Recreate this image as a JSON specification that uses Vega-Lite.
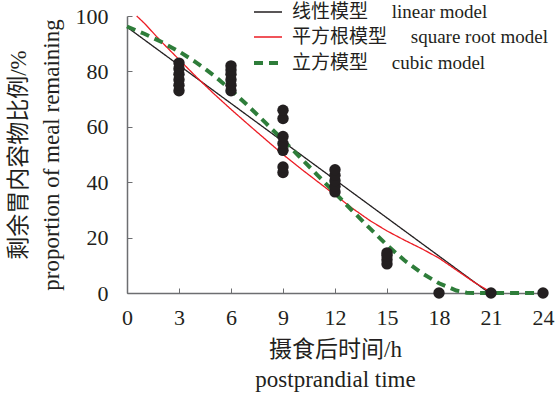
{
  "$schema": "https://vega.github.io/schema/vega-lite/v6.json",
  "width": 416,
  "height": 277,
  "autosize": {"type": "none"},
  "padding": {"left": 127, "top": 16, "right": 14, "bottom": 105},
  "config": {
    "view": {"stroke": null},
    "font": "Liberation Serif, Noto Sans CJK SC",
    "legend": {"labelFont": "Liberation Serif, Noto Sans CJK SC"}
  },
  "datasets": {
    "lines": [
      {"model": "线性模型\u3000\u00a0linear model", "t": 0, "v": 96},
      {"model": "线性模型\u3000\u00a0linear model", "t": 20.9, "v": 0},
      {"model": "平方根模型\u3000\u00a0square root model", "t": 0.56, "v": 100},
      {"model": "平方根模型\u3000\u00a0square root model", "t": 1, "v": 97.4},
      {"model": "平方根模型\u3000\u00a0square root model", "t": 2, "v": 90.6},
      {"model": "平方根模型\u3000\u00a0square root model", "t": 3, "v": 84.3},
      {"model": "平方根模型\u3000\u00a0square root model", "t": 4, "v": 78},
      {"model": "平方根模型\u3000\u00a0square root model", "t": 5, "v": 72},
      {"model": "平方根模型\u3000\u00a0square root model", "t": 6, "v": 66.3},
      {"model": "平方根模型\u3000\u00a0square root model", "t": 7, "v": 60.8},
      {"model": "平方根模型\u3000\u00a0square root model", "t": 8, "v": 55.4},
      {"model": "平方根模型\u3000\u00a0square root model", "t": 9, "v": 50},
      {"model": "平方根模型\u3000\u00a0square root model", "t": 10, "v": 45},
      {"model": "平方根模型\u3000\u00a0square root model", "t": 11, "v": 40.2},
      {"model": "平方根模型\u3000\u00a0square root model", "t": 12, "v": 35.4},
      {"model": "平方根模型\u3000\u00a0square root model", "t": 13, "v": 30.6},
      {"model": "平方根模型\u3000\u00a0square root model", "t": 14, "v": 26.2},
      {"model": "平方根模型\u3000\u00a0square root model", "t": 15, "v": 22.4},
      {"model": "平方根模型\u3000\u00a0square root model", "t": 16, "v": 19.1},
      {"model": "平方根模型\u3000\u00a0square root model", "t": 17, "v": 16},
      {"model": "平方根模型\u3000\u00a0square root model", "t": 18, "v": 12.6},
      {"model": "平方根模型\u3000\u00a0square root model", "t": 19, "v": 8.3},
      {"model": "平方根模型\u3000\u00a0square root model", "t": 20, "v": 4},
      {"model": "平方根模型\u3000\u00a0square root model", "t": 20.8, "v": 1},
      {"model": "平方根模型\u3000\u00a0square root model", "t": 21, "v": 0},
      {"model": "立方模型\u3000\u00a0cubic model", "t": 0, "v": 96.2},
      {"model": "立方模型\u3000\u00a0cubic model", "t": 1, "v": 93.6},
      {"model": "立方模型\u3000\u00a0cubic model", "t": 2, "v": 90.6},
      {"model": "立方模型\u3000\u00a0cubic model", "t": 3, "v": 87.2},
      {"model": "立方模型\u3000\u00a0cubic model", "t": 4, "v": 83.2},
      {"model": "立方模型\u3000\u00a0cubic model", "t": 5, "v": 78.6},
      {"model": "立方模型\u3000\u00a0cubic model", "t": 6, "v": 73.3},
      {"model": "立方模型\u3000\u00a0cubic model", "t": 7, "v": 67.5},
      {"model": "立方模型\u3000\u00a0cubic model", "t": 8, "v": 61.4},
      {"model": "立方模型\u3000\u00a0cubic model", "t": 9, "v": 55.2},
      {"model": "立方模型\u3000\u00a0cubic model", "t": 10, "v": 48.9},
      {"model": "立方模型\u3000\u00a0cubic model", "t": 11, "v": 42.5},
      {"model": "立方模型\u3000\u00a0cubic model", "t": 12, "v": 36.1},
      {"model": "立方模型\u3000\u00a0cubic model", "t": 13, "v": 29.7},
      {"model": "立方模型\u3000\u00a0cubic model", "t": 14, "v": 23.4},
      {"model": "立方模型\u3000\u00a0cubic model", "t": 15, "v": 17.3},
      {"model": "立方模型\u3000\u00a0cubic model", "t": 16, "v": 11.8},
      {"model": "立方模型\u3000\u00a0cubic model", "t": 17, "v": 7.2},
      {"model": "立方模型\u3000\u00a0cubic model", "t": 18, "v": 3.5},
      {"model": "立方模型\u3000\u00a0cubic model", "t": 19, "v": 0.9},
      {"model": "立方模型\u3000\u00a0cubic model", "t": 19.6, "v": 0.1},
      {"model": "立方模型\u3000\u00a0cubic model", "t": 20, "v": 0},
      {"model": "立方模型\u3000\u00a0cubic model", "t": 24, "v": 0}
    ],
    "pts": [
      {"t": 3, "v": 73}, {"t": 3, "v": 75}, {"t": 3, "v": 77}, {"t": 3, "v": 79}, {"t": 3, "v": 81}, {"t": 3, "v": 83},
      {"t": 6, "v": 73}, {"t": 6, "v": 75}, {"t": 6, "v": 77}, {"t": 6, "v": 79}, {"t": 6, "v": 80.5}, {"t": 6, "v": 82},
      {"t": 9, "v": 43.5}, {"t": 9, "v": 45.5}, {"t": 9, "v": 51.5}, {"t": 9, "v": 54}, {"t": 9, "v": 56.5}, {"t": 9, "v": 63}, {"t": 9, "v": 66},
      {"t": 12, "v": 36.5}, {"t": 12, "v": 38.5}, {"t": 12, "v": 40.5}, {"t": 12, "v": 42.5}, {"t": 12, "v": 44.5},
      {"t": 15, "v": 10.5}, {"t": 15, "v": 12}, {"t": 15, "v": 13.5}, {"t": 15, "v": 14.5},
      {"t": 18, "v": 0}, {"t": 21, "v": 0}, {"t": 24, "v": 0}
    ]
  },
  "layer": [
    {
      "data": {"name": "lines"},
      "mark": {"type": "line", "clip": false},
      "encoding": {
        "x": {
          "field": "t", "type": "quantitative",
          "scale": {"domain": [0, 24], "nice": false, "zero": false},
          "axis": {
            "values": [0, 3, 6, 9, 12, 15, 18, 21, 24],
            "title": ["摄食后时间/h", "postprandial time"],
            "grid": false,
            "domainColor": "#6d6e71", "domainWidth": 1.5,
            "tickColor": "#6d6e71", "tickSize": -5, "tickWidth": 1,
            "labelFontSize": 22, "labelColor": "#231f20", "labelPadding": 19,
            "labelFlush": false, "labelOverlap": false,
            "titleFontSize": 23, "titleFontWeight": "normal", "titleColor": "#231f20",
            "titleLineHeight": 30, "titlePadding": 10
          }
        },
        "y": {
          "field": "v", "type": "quantitative",
          "scale": {"domain": [0, 100], "nice": false},
          "axis": {
            "values": [0, 20, 40, 60, 80, 100],
            "title": ["剩余胃内容物比例/%", "proportion of meal remaining"],
            "grid": false,
            "domainColor": "#6d6e71", "domainWidth": 1.5,
            "tickColor": "#6d6e71", "tickSize": -5, "tickWidth": 1,
            "labelFontSize": 22, "labelColor": "#231f20", "labelPadding": 24,
            "labelFlush": false, "labelOverlap": false,
            "titleFontSize": 23, "titleFontWeight": "normal", "titleColor": "#231f20",
            "titleLineHeight": 33, "titlePadding": 12
          }
        },
        "color": {
          "field": "model", "type": "nominal",
          "scale": {
            "type": "ordinal",
            "domain": ["线性模型\u3000\u00a0linear model", "平方根模型\u3000\u00a0square root model", "立方模型\u3000\u00a0cubic model"],
            "range": ["#231f20", "#ec1c24", "#2e7d3a"]
          },
          "legend": {
            "title": null, "orient": "none", "legendX": 125, "legendY": -19,
            "padding": 0, "rowPadding": -5, "labelFontSize": 19, "labelColor": "#231f20",
            "labelLimit": 0, "labelOffset": 8, "symbolType": "stroke", "symbolSize": 784
          }
        },
        "strokeDash": {
          "field": "model", "type": "nominal",
          "scale": {
            "type": "ordinal",
            "domain": ["线性模型\u3000\u00a0linear model", "平方根模型\u3000\u00a0square root model", "立方模型\u3000\u00a0cubic model"],
            "range": [[1, 0], [1, 0], [9, 6]]
          },
          "legend": {
            "title": null, "orient": "none", "legendX": 125, "legendY": -19,
            "padding": 0, "rowPadding": -5, "labelFontSize": 19, "labelColor": "#231f20",
            "labelLimit": 0, "labelOffset": 8, "symbolType": "stroke", "symbolSize": 784
          }
        },
        "strokeWidth": {
          "field": "model", "type": "nominal",
          "scale": {
            "type": "ordinal",
            "domain": ["线性模型\u3000\u00a0linear model", "平方根模型\u3000\u00a0square root model", "立方模型\u3000\u00a0cubic model"],
            "range": [1.3, 1.3, 4]
          },
          "legend": {
            "title": null, "orient": "none", "legendX": 125, "legendY": -19,
            "padding": 0, "rowPadding": -5, "labelFontSize": 19, "labelColor": "#231f20",
            "labelLimit": 0, "labelOffset": 8, "symbolType": "stroke", "symbolSize": 784
          }
        }
      }
    },
    {
      "data": {"name": "pts"},
      "mark": {"type": "point", "filled": true, "size": 130, "color": "#231f20", "opacity": 1},
      "encoding": {
        "x": {"field": "t", "type": "quantitative"},
        "y": {"field": "v", "type": "quantitative"}
      }
    }
  ]
}
